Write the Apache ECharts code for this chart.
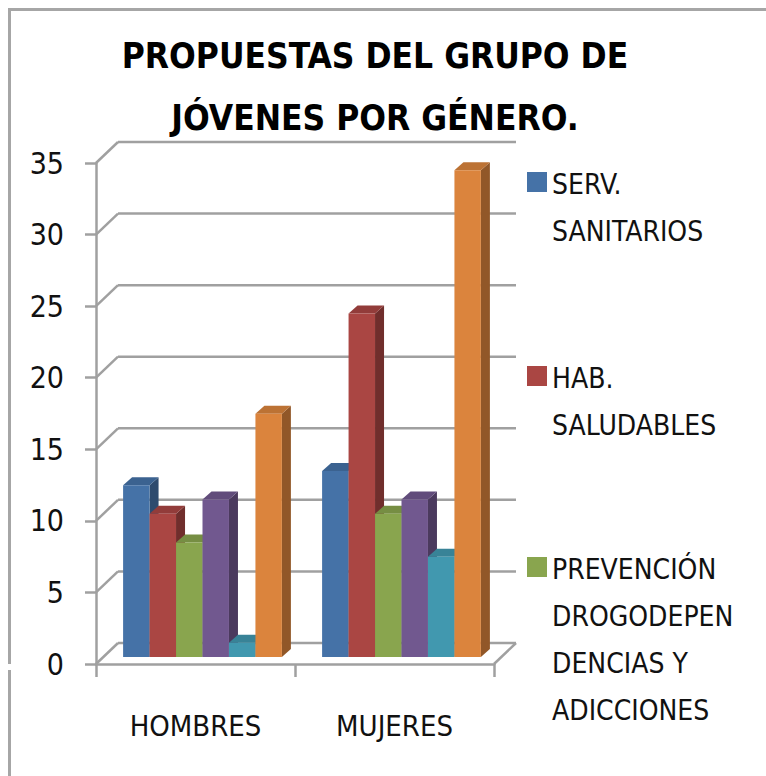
<!DOCTYPE html>
<html>
<head>
<meta charset="utf-8">
<script src="https://cdn.jsdelivr.net/npm/echarts@6/dist/echarts.min.js"></script>
<style>
html,body{margin:0;padding:0;background:#fff;}
#chart{width:766px;height:776px;}
</style>
</head>
<body>
<div id="chart"></div>
<script>
// ---- data ----
const categories = ['HOMBRES', 'MUJERES'];
const seriesNames = ['SERV. SANITARIOS', 'HAB. SALUDABLES', 'PREVENCIÓN DROGODEPENDENCIAS Y ADICCIONES', 'SERIE 4', 'SERIE 5', 'SERIE 6'];
const servSanitarios = [12, 13];
const habSaludables = [10, 24];
const prevencion = [8, 10];
const serie4 = [11, 11];
const serie5 = [1, 7];
const serie6 = [17, 34];
const yTicks = [0, 5, 10, 15, 20, 25, 30, 35];
const legendLabels = ['SERV.\nSANITARIOS', 'HAB.\nSALUDABLES', 'PREVENCIÓN\nDROGODEPEN\nDENCIAS Y\nADICCIONES'];

// ---- style ----
const colors = ['#4572A7', '#AA4643', '#89A54E', '#71588F', '#4198AF', '#DB843D'];
const FONT = "'Liberation Sans Narrow', 'DejaVu Sans Condensed', 'Arial Narrow', sans-serif";
const GRID_COLOR = '#a0a0a0';
const WALL_DX = 22, WALL_DY = -21;   // back wall depth offset (px)
const BAR_DX = 7, BAR_DY = -7;       // bars sit at ~1/3 depth
const BAR_DEPTH_X = 9, BAR_DEPTH_Y = -8;
const BAR_RATIO = 0.133;

function shade(hex, f) {
  const n = parseInt(hex.slice(1), 16);
  const r = Math.round(((n >> 16) & 255) * f), g = Math.round(((n >> 8) & 255) * f), b = Math.round((n & 255) * f);
  return 'rgb(' + r + ',' + g + ',' + b + ')';
}

const allValues = [servSanitarios, habSaludables, prevencion, serie4, serie5, serie6];

const chart = echarts.init(document.getElementById('chart'), null, {renderer: 'svg'});

const barSeries = allValues.map(function (vals, si) {
  return {
    name: seriesNames[si],
    type: 'custom',
    z: 10 + si,
    data: vals.map(function (v, ci) { return [ci, v]; }),
    encode: {x: 0, y: 1},
    renderItem: function (params, api) {
      const ci = api.value(0), v = api.value(1);
      const top = api.coord([ci, v]);
      const base = api.coord([ci, 0]);
      const band = api.size([1, 0])[0];
      const w = band * BAR_RATIO;
      const x0 = top[0] - 3 * w + si * w + BAR_DX;
      const x1 = x0 + w;
      const yt = top[1] + BAR_DY;
      const yb = base[1] + BAR_DY;
      const c = colors[si];
      return {
        type: 'group',
        children: [
          {type: 'polygon', shape: {points: [[x1, yt], [x1 + BAR_DEPTH_X, yt + BAR_DEPTH_Y], [x1 + BAR_DEPTH_X, yb + BAR_DEPTH_Y], [x1, yb]]}, style: {fill: shade(c, 0.66)}},
          {type: 'polygon', shape: {points: [[x0, yt], [x1, yt], [x1 + BAR_DEPTH_X, yt + BAR_DEPTH_Y], [x0 + BAR_DEPTH_X, yt + BAR_DEPTH_Y]]}, style: {fill: shade(c, 0.86)}},
          {type: 'rect', shape: {x: x0, y: yt, width: w, height: yb - yt}, style: {fill: c}}
        ]
      };
    }
  };
});

const wallSeries = {
  type: 'custom',
  z: 2,
  silent: true,
  data: yTicks.map(function (t) { return [0, t]; }),
  encode: {x: 0, y: 1},
  renderItem: function (params, api) {
    const cs = params.coordSys;
    const p = api.coord([0, api.value(1)]);
    const y = p[1];
    const st = {stroke: GRID_COLOR, lineWidth: 2.5};
    const kids = [
      {type: 'line', shape: {x1: cs.x, y1: y, x2: cs.x + WALL_DX, y2: y + WALL_DY}, style: st},
      {type: 'line', shape: {x1: cs.x + WALL_DX, y1: y + WALL_DY, x2: cs.x + cs.width + WALL_DX, y2: y + WALL_DY}, style: st}
    ];
    if (api.value(1) === 0) {
      kids.push({type: 'line', shape: {x1: cs.x + cs.width, y1: y, x2: cs.x + cs.width + WALL_DX, y2: y + WALL_DY}, style: st});
    }
    return {type: 'group', children: kids};
  }
};

const legendGraphics = [];
const legendTops = [161, 355, 546];
legendLabels.forEach(function (lab, i) {
  legendGraphics.push({type: 'rect', left: 527, top: legendTops[i] + 11, shape: {width: 20, height: 20}, style: {fill: colors[i]}});
  legendGraphics.push({type: 'text', left: 552, top: legendTops[i], style: {text: lab, font: '28px ' + FONT, fill: '#111', lineHeight: 47}});
});

chart.setOption({
  backgroundColor: '#fff',
  animation: false,
  title: {
    text: 'PROPUESTAS DEL GRUPO DE\nJÓVENES POR GÉNERO.',
    left: 375, top: 25, padding: 0, textAlign: 'center',
    textStyle: {fontFamily: FONT, fontWeight: 'bold', fontSize: 35, lineHeight: 62, color: '#000'}
  },
  grid: {left: 96, right: 272, top: 163, bottom: 112, containLabel: false},
  xAxis: {
    type: 'category', data: categories,
    axisLine: {lineStyle: {color: GRID_COLOR, width: 2.5}},
    axisTick: {show: true, length: 13, lineStyle: {color: GRID_COLOR, width: 2.5}},
    axisLabel: {fontFamily: FONT, fontSize: 29, color: '#111', margin: 47},
    splitLine: {show: false}
  },
  yAxis: {
    type: 'value', min: 0, max: 35, interval: 5,
    axisLine: {show: true, lineStyle: {color: GRID_COLOR, width: 2.5}},
    axisTick: {show: true, length: 11, lineStyle: {color: GRID_COLOR, width: 2.5}},
    axisLabel: {fontFamily: FONT, fontSize: 30, color: '#111', margin: 32},
    splitLine: {show: false}
  },
  graphic: [
    {type: 'polyline', silent: true, shape: {points: [[9.5, 664], [9.5, 9.5], [780, 9.5]]}, style: {stroke: '#a6a6a6', lineWidth: 3, fill: null}},
    {type: 'line', silent: true, shape: {x1: 9.5, y1: 670, x2: 9.5, y2: 790}, style: {stroke: '#a6a6a6', lineWidth: 3}}
  ].concat(legendGraphics),
  series: [wallSeries].concat(barSeries)
});
</script>
</body>
</html>
